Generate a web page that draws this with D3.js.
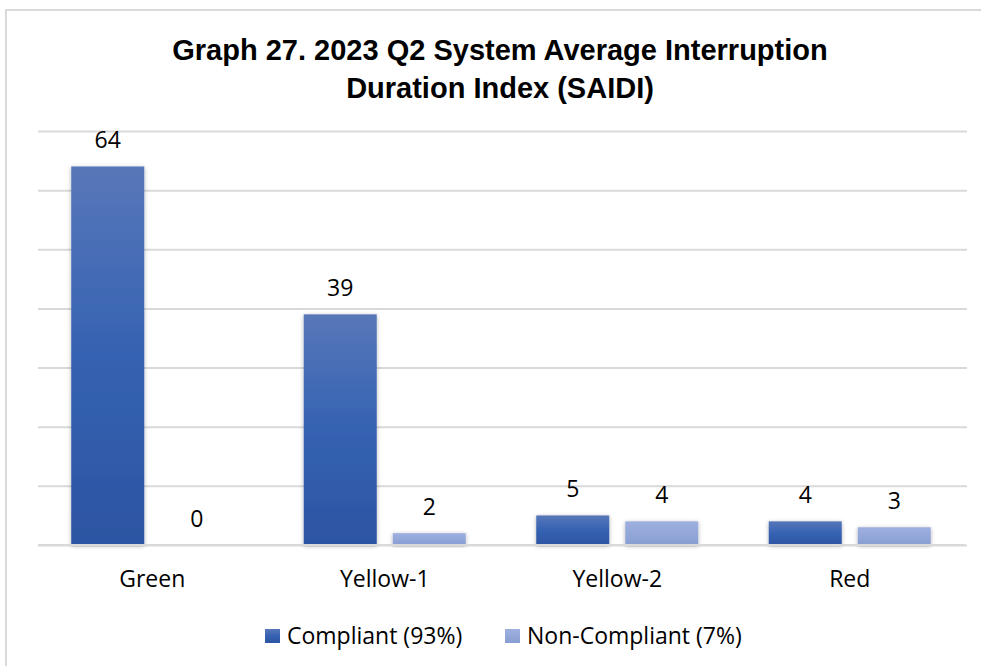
<!DOCTYPE html>
<html><head><meta charset="utf-8">
<script src="https://cdn.jsdelivr.net/npm/d3@7"></script>
<style>html,body{margin:0;padding:0;background:#fff;}svg{display:block;}</style>
</head><body>
<svg id="chart" width="981" height="666"></svg>
<script>
const categories = ["Green", "Yellow-1", "Yellow-2", "Red"];
const seriesNames = ["Compliant (93%)", "Non-Compliant (7%)"];
const compliant = [64, 39, 5, 4];
const nonCompliant = [0, 2, 4, 3];
const yTicks = [0, 10, 20, 30, 40, 50, 60, 70];
const titleLines = ["Graph 27. 2023 Q2 System Average Interruption", "Duration Index (SAIDI)"];

const svg = d3.select("#chart");
const W = 981, H = 666;
const plot = {left: 36, right: 966, top: 131, bottom: 545};
const FONT = "Open Sans, sans-serif";

// frame
svg.append("rect").attr("x", 6).attr("y", 10).attr("width", W + 10).attr("height", H + 10)
  .attr("fill", "#fff").attr("stroke", "#d9d9d9").attr("stroke-width", 2);

const defs = svg.append("defs");
const g1 = defs.append("linearGradient").attr("id", "gC").attr("x1", 0).attr("y1", 0).attr("x2", 0).attr("y2", 1);
g1.append("stop").attr("offset", "0%").attr("stop-color", "#5877b9");
g1.append("stop").attr("offset", "50%").attr("stop-color", "#3562b2");
g1.append("stop").attr("offset", "100%").attr("stop-color", "#2c55a2");
const g2 = defs.append("linearGradient").attr("id", "gN").attr("x1", 0).attr("y1", 0).attr("x2", 0).attr("y2", 1);
g2.append("stop").attr("offset", "0%").attr("stop-color", "#9eb0de");
g2.append("stop").attr("offset", "50%").attr("stop-color", "#93a7da");
g2.append("stop").attr("offset", "100%").attr("stop-color", "#889dd1");
const f = defs.append("filter").attr("id", "sh").attr("x", "-20%").attr("y", "-20%").attr("width", "140%").attr("height", "140%");
f.append("feDropShadow").attr("dx", 0).attr("dy", 1).attr("stdDeviation", 2).attr("flood-color", "#000").attr("flood-opacity", 0.3);

const x0 = d3.scaleBand().domain(categories).range([plot.left, plot.right]).paddingInner(0.3032).paddingOuter(0.1516);
const x1 = d3.scaleBand().domain(seriesNames).range([0, x0.bandwidth()]).paddingInner(0.18).paddingOuter(0);
const y = d3.scaleLinear().domain([0, 70]).range([plot.bottom, plot.top]);

// gridlines
const yAxis = d3.axisLeft(y).tickValues(yTicks).tickSize(-(plot.right - plot.left - 1)).tickFormat("");
const ga = svg.append("g").attr("transform", `translate(${plot.left + 2},0)`).call(yAxis);
ga.select(".domain").remove();
ga.selectAll(".tick line").attr("stroke", "#d9d9d9").attr("stroke-width", 2);

// title
svg.append("text").attr("text-anchor", "middle")
  .attr("font-family", "Liberation Sans, Arial, sans-serif").attr("font-weight", "bold").attr("font-size", 29).attr("fill", "#000")
  .selectAll("tspan").data(titleLines).join("tspan")
  .attr("x", 500).attr("y", (d, i) => 60 + i * 38).text(d => d);

const data = categories.map((c, i) => ({cat: c, vals: [
  {s: seriesNames[0], v: compliant[i], fill: "url(#gC)"},
  {s: seriesNames[1], v: nonCompliant[i], fill: "url(#gN)"}
]}));

const groups = svg.append("g").selectAll("g").data(data).join("g")
  .attr("transform", d => `translate(${x0(d.cat)},0)`);
groups.selectAll("rect").data(d => d.vals.filter(v => v.v > 0)).join("rect")
  .attr("x", d => x1(d.s)).attr("width", x1.bandwidth())
  .attr("y", d => y(d.v)).attr("height", d => y(0) - y(d.v))
  .attr("fill", d => d.fill).attr("filter", "url(#sh)");
groups.selectAll("text").data(d => d.vals).join("text")
  .attr("x", d => x1(d.s) + x1.bandwidth() / 2).attr("y", d => y(d.v) - 18)
  .attr("text-anchor", "middle").attr("font-family", FONT).attr("font-size", 23).attr("fill", "#000")
  .text(d => d.v);

// baseline
svg.append("line").attr("x1", plot.left + 2).attr("x2", plot.right - 1).attr("y1", y(0)).attr("y2", y(0))
  .attr("stroke", "#d9d9d9").attr("stroke-width", 2);

// category axis labels
const xAxis = d3.axisBottom(x0).tickSize(0).tickPadding(0);
const gx = svg.append("g").attr("transform", `translate(0,${plot.bottom + 42})`).call(xAxis);
gx.select(".domain").remove();
gx.selectAll("text").attr("font-family", FONT).attr("font-size", 23).attr("fill", "#000").attr("dy", 0);

// legend
const legend = [{name: seriesNames[0], fill: "url(#gC)", x: 265}, {name: seriesNames[1], fill: "url(#gN)", x: 505}];
const lg = svg.append("g").selectAll("g").data(legend).join("g").attr("transform", d => `translate(${d.x},629)`);
lg.append("rect").attr("width", 15).attr("height", 14).attr("fill", d => d.fill);
lg.append("text").attr("x", 22).attr("y", 15).attr("font-family", FONT).attr("font-size", 23).attr("fill", "#000").text(d => d.name);
</script>
</body></html>
